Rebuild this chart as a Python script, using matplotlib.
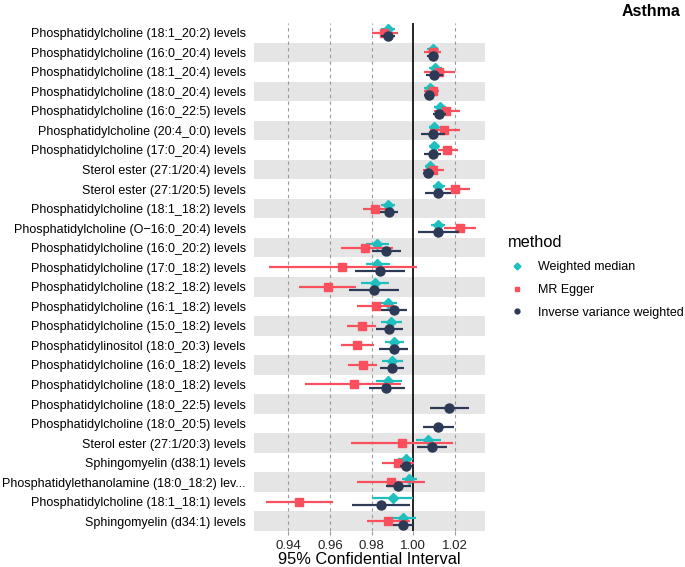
import numpy as np
import matplotlib
matplotlib.use("Agg")
import matplotlib.pyplot as plt
from matplotlib.lines import Line2D

plt.rcParams['font.family'] = ['Liberation Sans', 'DejaVu Sans']

labels = [
    "Phosphatidylcholine (18:1_20:2) levels",
    "Phosphatidylcholine (16:0_20:4) levels",
    "Phosphatidylcholine (18:1_20:4) levels",
    "Phosphatidylcholine (18:0_20:4) levels",
    "Phosphatidylcholine (16:0_22:5) levels",
    "Phosphatidylcholine (20:4_0:0) levels",
    "Phosphatidylcholine (17:0_20:4) levels",
    "Sterol ester (27:1/20:4) levels",
    "Sterol ester (27:1/20:5) levels",
    "Phosphatidylcholine (18:1_18:2) levels",
    "Phosphatidylcholine (O\u221216:0_20:4) levels",
    "Phosphatidylcholine (16:0_20:2) levels",
    "Phosphatidylcholine (17:0_18:2) levels",
    "Phosphatidylcholine (18:2_18:2) levels",
    "Phosphatidylcholine (16:1_18:2) levels",
    "Phosphatidylcholine (15:0_18:2) levels",
    "Phosphatidylinositol (18:0_20:3) levels",
    "Phosphatidylcholine (16:0_18:2) levels",
    "Phosphatidylcholine (18:0_18:2) levels",
    "Phosphatidylcholine (18:0_22:5) levels",
    "Phosphatidylcholine (18:0_20:5) levels",
    "Sterol ester (27:1/20:3) levels",
    "Sphingomyelin (d38:1) levels",
    "Phosphatidylethanolamine (18:0_18:2) lev...",
    "Phosphatidylcholine (18:1_18:1) levels",
    "Sphingomyelin (d34:1) levels",
]

nan = np.nan
wm_est = [0.9879, 1.0092, 1.0105, 1.0078, 1.0128, 1.0100, 1.0097, 1.0078, 1.0117, 0.9879,
          1.0117, 0.9826, 0.9827, 0.9815, 0.9879, 0.9895, 0.9908, 0.9898, 0.9879, nan,
          nan, 1.0072, 0.9963, 0.9981, 0.9903, 0.9948]
wm_lo = [0.9847, 1.0067, 1.0075, 1.0053, 1.0100, 1.0075, 1.0075, 1.0055, 1.0092, 0.9847,
         1.0083, 0.9771, 0.9771, 0.9750, 0.9839, 0.9847, 0.9863, 0.9850, 0.9819, nan,
         nan, 1.0013, 0.9927, 0.9947, 0.9802, 0.9887]
wm_hi = [0.9911, 1.0117, 1.0137, 1.0103, 1.0158, 1.0125, 1.0122, 1.0103, 1.0150, 0.9911,
         1.0150, 0.9882, 0.9887, 0.9882, 0.9923, 0.9944, 0.9955, 0.9948, 0.9944, nan,
         nan, 1.0133, 0.9997, 1.0017, 1.0000, 1.0012]

egger_est = [0.9860, 1.0092, 1.0125, 1.0092, 1.0158, 1.0147, 1.0163, 1.0095, 1.0200, 0.9815,
             1.0225, 0.9769, 0.9658, 0.9589, 0.9823, 0.9755, 0.9731, 0.9758, 0.9713, nan,
             nan, 0.9944, 0.9924, 0.9892, 0.9451, 0.9879]
egger_lo = [0.9800, 1.0050, 1.0050, 1.0053, 1.0097, 1.0080, 1.0117, 1.0045, 1.0150, 0.9758,
            1.0145, 0.9653, 0.9306, 0.9452, 0.9731, 0.9681, 0.9653, 0.9685, 0.9481, nan,
            nan, 0.9702, 0.9850, 0.9729, 0.9293, 0.9777]
egger_hi = [0.9926, 1.0133, 1.0200, 1.0125, 1.0225, 1.0222, 1.0212, 1.0147, 1.0270, 0.9871,
            1.0303, 0.9903, 1.0017, 0.9726, 0.9906, 0.9823, 0.9810, 0.9827, 0.9939, nan,
            nan, 1.0192, 1.0003, 1.0055, 0.9613, 0.9984]

ivw_est = [0.9879, 1.0092, 1.0100, 1.0075, 1.0125, 1.0092, 1.0092, 1.0070, 1.0117, 0.9882,
           1.0117, 0.9868, 0.9839, 0.9810, 0.9906, 0.9884, 0.9906, 0.9898, 0.9871, 1.0172,
           1.0120, 1.0088, 0.9963, 0.9927, 0.9847, 0.9948]
ivw_lo = [0.9844, 1.0067, 1.0063, 1.0053, 1.0092, 1.0037, 1.0053, 1.0045, 1.0055, 0.9839,
          1.0020, 0.9803, 0.9718, 0.9689, 0.9847, 0.9823, 0.9835, 0.9839, 0.9787, 1.0078,
          1.0045, 1.0017, 0.9935, 0.9871, 0.9706, 0.9903]
ivw_hi = [0.9911, 1.0117, 1.0142, 1.0100, 1.0158, 1.0150, 1.0133, 1.0100, 1.0183, 0.9927,
          1.0217, 0.9939, 0.9960, 0.9931, 0.9968, 0.9948, 0.9976, 0.9955, 0.9960, 1.0267,
          1.0197, 1.0162, 0.9995, 0.9989, 0.9984, 0.9997]

x_ticks = [0.94, 0.96, 0.98, 1.00, 1.02]
method_names = ["Weighted median", "MR Egger", "Inverse variance weighted"]
colors = ["#1DBFBF", "#FA4F5C", "#2C3A56"]
markers = ["D", "s", "o"]
msizes = [5.5, 5.5, 6.5]
offsets = [-0.18, 0.0, 0.18]

fig = plt.figure(figsize=(6.85, 5.67), dpi=100)
W, H = 685, 567
ax = fig.add_axes([254 / W, 1 - 531 / H, (485 - 254) / W, (531 - 23) / H])

n = len(labels)
ypos = np.arange(n)

# alternating bands
for i in ypos:
    if i % 2 == 1:
        ax.axhspan(i - 0.5, i + 0.5, color="#E5E5E5", lw=0, zorder=0)

for t in x_ticks:
    if abs(t - 1.0) > 1e-9:
        ax.axvline(t, color="#9A9A9A", lw=0.8, ls=(0, (3, 3)), zorder=1)
ax.axvline(1.0, color="black", lw=1.2, zorder=2)

series = [(wm_est, wm_lo, wm_hi), (egger_est, egger_lo, egger_hi), (ivw_est, ivw_lo, ivw_hi)]
for k, (est, lo, hi) in enumerate(series):
    est = np.array(est); lo = np.array(lo); hi = np.array(hi)
    yy = ypos + offsets[k]
    ok = ~np.isnan(est)
    ax.hlines(yy[ok], lo[ok], hi[ok], color=colors[k], lw=1.6, zorder=3 + k)
    ax.plot(est[ok], yy[ok], ls="none", marker=markers[k], ms=msizes[k],
            color=colors[k], mec=colors[k], zorder=3.5 + k)

ax.set_xlim(0.9235, 1.0344)
ax.set_ylim(n - 0.5, -0.5)
ax.set_yticks(ypos)
ax.set_yticklabels(labels, fontsize=9, color="black")
ax.set_xticks(x_ticks)
ax.set_xticklabels([f"{t:.2f}" for t in x_ticks], fontsize=9.5, color="#222222")
ax.tick_params(axis="y", length=0, pad=6)
ax.tick_params(axis="x", length=3, color="#9A9A9A", pad=3.5)
for s in ax.spines.values():
    s.set_visible(False)
ax.set_xlabel("95% Confidential Interval", fontsize=11.8, labelpad=0)

handles = [Line2D([], [], ls="none", marker=markers[k], ms=3.5, color=colors[k])
           for k in range(3)]
leg = fig.legend(handles, method_names, loc="upper left", bbox_to_anchor=(497 / W, 1 - 224 / H),
                 frameon=False, fontsize=9, title="method", title_fontsize=11.8,
                 alignment="left", labelspacing=0.85, handletextpad=1.0, handlelength=1.4)
leg._legend_box.sep = 8

fig.text(680 / W, 1 - 12 / H, "Asthma", fontsize=11.5, fontweight="bold",
         ha="right", va="center")

fig.savefig("out.png", dpi=100)
